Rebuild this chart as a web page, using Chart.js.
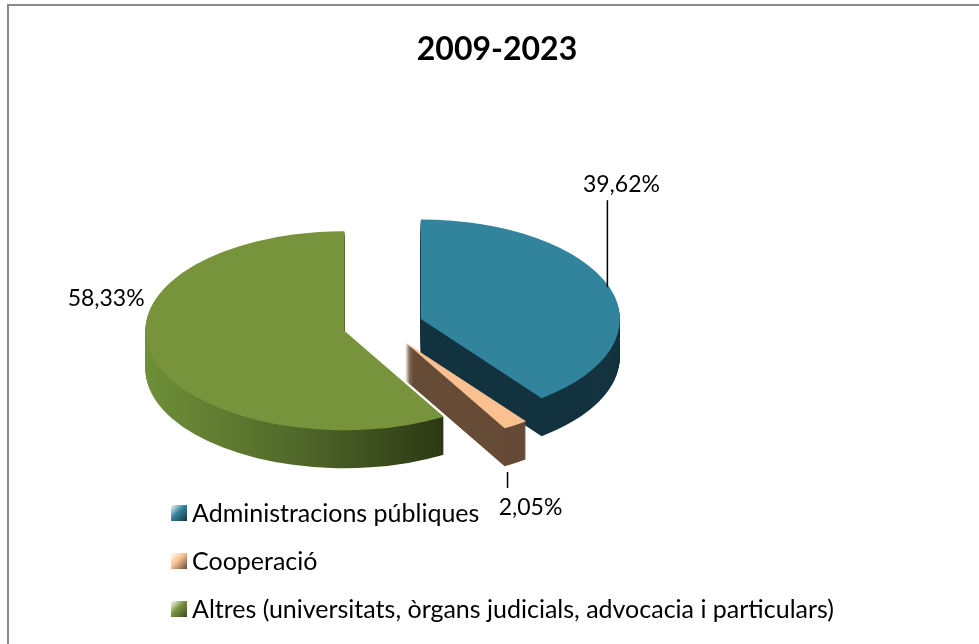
<!DOCTYPE html>
<html>
<head>
<meta charset="utf-8">
<script src="https://cdn.jsdelivr.net/npm/chart.js@4.4.1/dist/chart.umd.min.js"></script>
<style>
  html, body { margin: 0; padding: 0; background: #fff; }
  #wrap { width: 979px; height: 644px; position: relative; }
</style>
</head>
<body>
<div id="wrap"><canvas id="chart" width="979" height="644"></canvas></div>
<script>
// data
const chartTitle = '2009-2023';
const categories = [
  'Administracions públiques',
  'Cooperació',
  'Altres (universitats, òrgans judicials, advocacia i particulars)'
];
const shares = [39.62, 2.05, 58.33];

// look
const topColors = ['#31849b', '#fac090', '#77933c'];
const sideColors = ['#12333f', '#664b37', null]; // green side gets a gradient
const FONT = 'Lato, "Open Sans", sans-serif';
const TILT = 0.5;     // vertical squash of the pie
const DEPTH = 38;     // thickness in px
const EXPLODE = 40;   // distance each slice is pulled out

// where each data label sits, relative to the rim point at the slice's middle angle
const labelPlacement = [
  { leader: [[-2, 0], [-2, -87]], text: [12, -95] },
  { leader: [[-8, 47], [-8, 63]], text: [15, 90] },
  { leader: null, text: [-46, -50] }
];

function project(ctx, el, lift) {
  const mid = (el.startAngle + el.endAngle) / 2;
  ctx.translate(0, lift);
  ctx.translate(el.x, el.y);
  ctx.scale(1, TILT);
  ctx.translate(-el.x, -el.y);
  ctx.translate(Math.cos(mid) * EXPLODE, Math.sin(mid) * EXPLODE);
}

function rimPoint(el) {
  const mid = (el.startAngle + el.endAngle) / 2;
  const r = el.outerRadius + EXPLODE;
  return { x: el.x + Math.cos(mid) * r, y: el.y + Math.sin(mid) * r * TILT };
}

const pie3d = {
  id: 'pie3d',
  beforeDraw(chart) {
    const ctx = chart.ctx;
    ctx.save();
    ctx.fillStyle = '#fff';
    ctx.fillRect(0, 0, chart.width, chart.height);
    ctx.strokeStyle = '#8a8a8a';
    ctx.lineWidth = 2;
    ctx.strokeRect(8, 5, chart.width + 50, chart.height + 50);
    ctx.restore();
  },
  beforeDatasetsDraw(chart) {
    const ctx = chart.ctx;
    const arcs = chart.getDatasetMeta(0).data.map((el, i) => ({ el, i }));
    // back to front
    arcs.sort((a, b) => Math.sin((a.el.startAngle + a.el.endAngle) / 2) - Math.sin((b.el.startAngle + b.el.endAngle) / 2));
    arcs.forEach(({ el, i }) => {
      const R = el.outerRadius;
      // side walls: stack of darker copies
      for (let d = DEPTH; d > 0; d--) {
        ctx.save();
        project(ctx, el, d);
        if (sideColors[i]) {
          ctx.fillStyle = sideColors[i];
        } else {
          const g = ctx.createLinearGradient(el.x - R, 0, el.x + R * 0.5, 0);
          g.addColorStop(0, '#6f8f38');
          g.addColorStop(0.5, '#51692a');
          g.addColorStop(1, '#2c3813');
          ctx.fillStyle = g;
        }
        ctx.beginPath();
        ctx.moveTo(el.x, el.y);
        ctx.arc(el.x, el.y, R, el.startAngle, el.endAngle);
        ctx.closePath();
        ctx.fill();
        ctx.restore();
      }
      // top face, drawn by the arc element itself
      ctx.save();
      project(ctx, el, 0);
      el.draw(ctx);
      ctx.restore();
    });
    return false;
  },
  afterDraw(chart) {
    const ctx = chart.ctx;
    const arcs = chart.getDatasetMeta(0).data;
    ctx.save();
    ctx.fillStyle = '#000';
    ctx.textBaseline = 'alphabetic';

    // title
    ctx.font = 'bold 32px ' + FONT;
    ctx.textAlign = 'center';
    ctx.fillText(chartTitle, 497, 60);

    // data labels
    ctx.font = '23px ' + FONT;
    ctx.strokeStyle = '#000';
    ctx.lineWidth = 1.5;
    arcs.forEach((el, i) => {
      const p = rimPoint(el);
      const place = labelPlacement[i];
      if (place.leader) {
        ctx.beginPath();
        ctx.moveTo(p.x + place.leader[0][0], p.y + place.leader[0][1]);
        ctx.lineTo(p.x + place.leader[1][0], p.y + place.leader[1][1]);
        ctx.stroke();
      }
      const txt = shares[i].toFixed(2).replace('.', ',') + '%';
      ctx.fillText(txt, p.x + place.text[0], p.y + place.text[1]);
    });

    // legend
    ctx.font = '25px ' + FONT;
    ctx.textAlign = 'left';
    categories.forEach((name, i) => {
      const base = 522 + i * 48;
      const g = ctx.createLinearGradient(171, base - 17, 187, base - 1);
      g.addColorStop(0, '#ffffff');
      g.addColorStop(0.45, topColors[i]);
      g.addColorStop(1, sideColors[i] || '#3b4a1e');
      ctx.fillStyle = g;
      ctx.fillRect(171, base - 17, 16, 16);
      ctx.fillStyle = '#000';
      ctx.fillText(name, 192, base);
    });
    ctx.restore();
  }
};

new Chart(document.getElementById('chart'), {
  type: 'pie',
  data: {
    labels: categories,
    datasets: [{
      data: shares,
      backgroundColor: topColors,
      borderWidth: 0,
      offset: 0
    }]
  },
  options: {
    responsive: false,
    animation: false,
    radius: 199,
    layout: { padding: { left: 0, right: 213, top: 7, bottom: 0 } },
    plugins: {
      legend: { display: false },
      tooltip: { enabled: false },
      title: { display: false }
    },
    events: []
  },
  plugins: [pie3d]
});
</script>
</body>
</html>
